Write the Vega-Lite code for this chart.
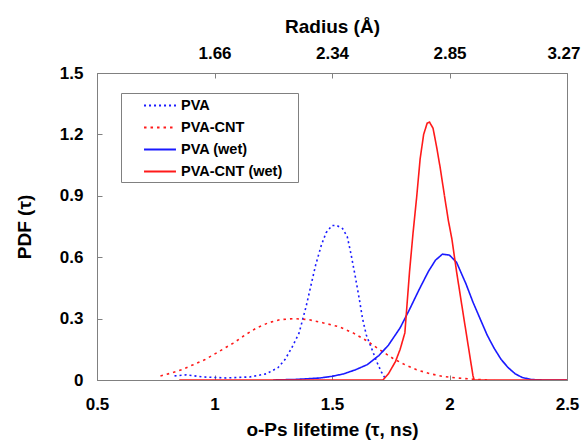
{
  "$schema": "https://vega.github.io/schema/vega-lite/v6.json",
  "width": 470,
  "height": 307,
  "autosize": "none",
  "padding": {"left": 97, "top": 73, "right": 15, "bottom": 63},
  "background": "white",
  "config": {
    "view": {"stroke": "#808080", "strokeWidth": 1},
    "font": "Liberation Sans",
    "axis": {
      "labelFont": "Liberation Sans",
      "labelFontWeight": "bold",
      "labelFontSize": 17,
      "labelColor": "#000000",
      "titleFont": "Liberation Sans",
      "titleFontWeight": "bold",
      "titleFontSize": 19,
      "titleColor": "#000000",
      "domainColor": "#808080",
      "tickColor": "#808080",
      "grid": false
    },
    "legend": {
      "titleOrient": "right", "titlePadding": 12, "titleFontSize": 14,
      "orient": "none", "legendX": 24, "legendY": 20,
      "fillColor": "white", "strokeColor": "#808080",
      "padding": 4, "symbolOffset": 26.5, "labelOffset": 12.5,
      "symbolType": "M-2.13,0H2.13", "symbolSize": 225, "symbolStrokeWidth": 2,
      "labelFont": "Liberation Sans", "labelFontWeight": "bold",
      "labelFontSize": 14.5, "labelColor": "#000000", "rowPadding": 7
    }
  },
  "data": {"values": [
    {"tau": 0.83, "pdf": 0.02, "s": "PVA"},
    {"tau": 0.88, "pdf": 0.025, "s": "PVA"},
    {"tau": 0.95, "pdf": 0.015, "s": "PVA"},
    {"tau": 1.05, "pdf": 0.01, "s": "PVA"},
    {"tau": 1.15, "pdf": 0.015, "s": "PVA"},
    {"tau": 1.22, "pdf": 0.03, "s": "PVA"},
    {"tau": 1.27, "pdf": 0.06, "s": "PVA"},
    {"tau": 1.30, "pdf": 0.10, "s": "PVA"},
    {"tau": 1.33, "pdf": 0.16, "s": "PVA"},
    {"tau": 1.36, "pdf": 0.23, "s": "PVA"},
    {"tau": 1.39, "pdf": 0.36, "s": "PVA"},
    {"tau": 1.41, "pdf": 0.46, "s": "PVA"},
    {"tau": 1.43, "pdf": 0.56, "s": "PVA"},
    {"tau": 1.455, "pdf": 0.66, "s": "PVA"},
    {"tau": 1.475, "pdf": 0.72, "s": "PVA"},
    {"tau": 1.50, "pdf": 0.755, "s": "PVA"},
    {"tau": 1.52, "pdf": 0.755, "s": "PVA"},
    {"tau": 1.545, "pdf": 0.74, "s": "PVA"},
    {"tau": 1.565, "pdf": 0.70, "s": "PVA"},
    {"tau": 1.58, "pdf": 0.62, "s": "PVA"},
    {"tau": 1.60, "pdf": 0.50, "s": "PVA"},
    {"tau": 1.617, "pdf": 0.39, "s": "PVA"},
    {"tau": 1.63, "pdf": 0.30, "s": "PVA"},
    {"tau": 1.646, "pdf": 0.22, "s": "PVA"},
    {"tau": 1.67, "pdf": 0.15, "s": "PVA"},
    {"tau": 1.69, "pdf": 0.09, "s": "PVA"},
    {"tau": 1.71, "pdf": 0.04, "s": "PVA"},
    {"tau": 1.725, "pdf": 0.01, "s": "PVA"},

    {"tau": 0.77, "pdf": 0.02, "s": "PVA-CNT"},
    {"tau": 0.82, "pdf": 0.035, "s": "PVA-CNT"},
    {"tau": 0.86, "pdf": 0.05, "s": "PVA-CNT"},
    {"tau": 0.91, "pdf": 0.075, "s": "PVA-CNT"},
    {"tau": 0.96, "pdf": 0.10, "s": "PVA-CNT"},
    {"tau": 1.02, "pdf": 0.14, "s": "PVA-CNT"},
    {"tau": 1.08, "pdf": 0.18, "s": "PVA-CNT"},
    {"tau": 1.13, "pdf": 0.22, "s": "PVA-CNT"},
    {"tau": 1.18, "pdf": 0.255, "s": "PVA-CNT"},
    {"tau": 1.23, "pdf": 0.28, "s": "PVA-CNT"},
    {"tau": 1.28, "pdf": 0.295, "s": "PVA-CNT"},
    {"tau": 1.34, "pdf": 0.30, "s": "PVA-CNT"},
    {"tau": 1.40, "pdf": 0.295, "s": "PVA-CNT"},
    {"tau": 1.46, "pdf": 0.28, "s": "PVA-CNT"},
    {"tau": 1.53, "pdf": 0.26, "s": "PVA-CNT"},
    {"tau": 1.59, "pdf": 0.23, "s": "PVA-CNT"},
    {"tau": 1.65, "pdf": 0.19, "s": "PVA-CNT"},
    {"tau": 1.70, "pdf": 0.15, "s": "PVA-CNT"},
    {"tau": 1.76, "pdf": 0.105, "s": "PVA-CNT"},
    {"tau": 1.81, "pdf": 0.075, "s": "PVA-CNT"},
    {"tau": 1.86, "pdf": 0.05, "s": "PVA-CNT"},
    {"tau": 1.92, "pdf": 0.03, "s": "PVA-CNT"},
    {"tau": 1.97, "pdf": 0.018, "s": "PVA-CNT"},
    {"tau": 2.03, "pdf": 0.01, "s": "PVA-CNT"},
    {"tau": 2.10, "pdf": 0.004, "s": "PVA-CNT"},
    {"tau": 2.16, "pdf": 0.0, "s": "PVA-CNT"},

    {"tau": 1.25, "pdf": 0.0, "s": "PVA (wet)"},
    {"tau": 1.35, "pdf": 0.003, "s": "PVA (wet)"},
    {"tau": 1.45, "pdf": 0.01, "s": "PVA (wet)"},
    {"tau": 1.50, "pdf": 0.018, "s": "PVA (wet)"},
    {"tau": 1.55, "pdf": 0.03, "s": "PVA (wet)"},
    {"tau": 1.60, "pdf": 0.05, "s": "PVA (wet)"},
    {"tau": 1.65, "pdf": 0.075, "s": "PVA (wet)"},
    {"tau": 1.70, "pdf": 0.12, "s": "PVA (wet)"},
    {"tau": 1.74, "pdf": 0.17, "s": "PVA (wet)"},
    {"tau": 1.79, "pdf": 0.255, "s": "PVA (wet)"},
    {"tau": 1.83, "pdf": 0.345, "s": "PVA (wet)"},
    {"tau": 1.87, "pdf": 0.44, "s": "PVA (wet)"},
    {"tau": 1.91, "pdf": 0.53, "s": "PVA (wet)"},
    {"tau": 1.94, "pdf": 0.585, "s": "PVA (wet)"},
    {"tau": 1.97, "pdf": 0.615, "s": "PVA (wet)"},
    {"tau": 2.00, "pdf": 0.61, "s": "PVA (wet)"},
    {"tau": 2.03, "pdf": 0.575, "s": "PVA (wet)"},
    {"tau": 2.07, "pdf": 0.47, "s": "PVA (wet)"},
    {"tau": 2.10, "pdf": 0.38, "s": "PVA (wet)"},
    {"tau": 2.13, "pdf": 0.30, "s": "PVA (wet)"},
    {"tau": 2.16, "pdf": 0.22, "s": "PVA (wet)"},
    {"tau": 2.19, "pdf": 0.155, "s": "PVA (wet)"},
    {"tau": 2.22, "pdf": 0.10, "s": "PVA (wet)"},
    {"tau": 2.25, "pdf": 0.06, "s": "PVA (wet)"},
    {"tau": 2.28, "pdf": 0.03, "s": "PVA (wet)"},
    {"tau": 2.31, "pdf": 0.012, "s": "PVA (wet)"},
    {"tau": 2.35, "pdf": 0.002, "s": "PVA (wet)"},
    {"tau": 2.40, "pdf": 0.0, "s": "PVA (wet)"},
    {"tau": 2.50, "pdf": 0.0, "s": "PVA (wet)"},

    {"tau": 0.85, "pdf": 0.0, "s": "PVA-CNT (wet)"},
    {"tau": 1.717, "pdf": 0.0, "s": "PVA-CNT (wet)"},
    {"tau": 1.74, "pdf": 0.03, "s": "PVA-CNT (wet)"},
    {"tau": 1.77, "pdf": 0.09, "s": "PVA-CNT (wet)"},
    {"tau": 1.79, "pdf": 0.15, "s": "PVA-CNT (wet)"},
    {"tau": 1.81, "pdf": 0.23, "s": "PVA-CNT (wet)"},
    {"tau": 1.82, "pdf": 0.38, "s": "PVA-CNT (wet)"},
    {"tau": 1.83, "pdf": 0.53, "s": "PVA-CNT (wet)"},
    {"tau": 1.845, "pdf": 0.72, "s": "PVA-CNT (wet)"},
    {"tau": 1.86, "pdf": 0.89, "s": "PVA-CNT (wet)"},
    {"tau": 1.875, "pdf": 1.08, "s": "PVA-CNT (wet)"},
    {"tau": 1.89, "pdf": 1.20, "s": "PVA-CNT (wet)"},
    {"tau": 1.905, "pdf": 1.255, "s": "PVA-CNT (wet)"},
    {"tau": 1.915, "pdf": 1.26, "s": "PVA-CNT (wet)"},
    {"tau": 1.93, "pdf": 1.23, "s": "PVA-CNT (wet)"},
    {"tau": 1.945, "pdf": 1.14, "s": "PVA-CNT (wet)"},
    {"tau": 1.96, "pdf": 1.04, "s": "PVA-CNT (wet)"},
    {"tau": 1.98, "pdf": 0.89, "s": "PVA-CNT (wet)"},
    {"tau": 1.995, "pdf": 0.78, "s": "PVA-CNT (wet)"},
    {"tau": 2.01, "pdf": 0.69, "s": "PVA-CNT (wet)"},
    {"tau": 2.03, "pdf": 0.53, "s": "PVA-CNT (wet)"},
    {"tau": 2.06, "pdf": 0.31, "s": "PVA-CNT (wet)"},
    {"tau": 2.08, "pdf": 0.165, "s": "PVA-CNT (wet)"},
    {"tau": 2.10, "pdf": 0.02, "s": "PVA-CNT (wet)"},
    {"tau": 2.105, "pdf": 0.0, "s": "PVA-CNT (wet)"},
    {"tau": 2.50, "pdf": 0.0, "s": "PVA-CNT (wet)"}
  ]},
  "resolve": {"axis": {"x": "independent"}},
  "layer": [
    {
      "mark": {"type": "line", "strokeWidth": 1.6, "clip": true},
      "encoding": {
        "x": {
          "field": "tau", "type": "quantitative",
          "scale": {"domain": [0.5, 2.5], "nice": false, "zero": false},
          "axis": {
            "orient": "bottom", "values": [0.5, 1, 1.5, 2, 2.5], "format": "~g",
            "title": "o-Ps lifetime (τ, ns)", "tickSize": -5,
            "labelPadding": 21, "titlePadding": 8, "labelFlush": false
          }
        },
        "y": {
          "field": "pdf", "type": "quantitative",
          "scale": {"domain": [0, 1.5], "nice": false},
          "axis": {
            "values": [0, 0.3, 0.6, 0.9, 1.2, 1.5],
            "labelExpr": "datum.value == 0 ? '0' : format(datum.value, '.1f')",
            "title": "PDF (τ)", "tickSize": -5,
            "labelPadding": 19, "titlePadding": 25
          }
        },
        "color": {
          "field": "s", "type": "nominal",
          "scale": {
            "domain": ["PVA", "PVA-CNT", "PVA (wet)", "PVA-CNT (wet)"],
            "range": ["#1a1aff", "#ff1a1a", "#1a1aff", "#ff1a1a"]
          },
          "legend": {"title": "\u00a0", "titleOrient": "right", "titlePadding": 12}
        },
        "strokeDash": {
          "field": "s", "type": "nominal",
          "scale": {
            "domain": ["PVA", "PVA-CNT", "PVA (wet)", "PVA-CNT (wet)"],
            "range": [[2, 3], [2.5, 4], [1, 0], [1, 0]]
          },
          "legend": {"title": "\u00a0", "titleOrient": "right", "titlePadding": 12}
        }
      }
    },
    {
      "mark": {"type": "rule", "opacity": 0},
      "encoding": {
        "x": {
          "field": "tau", "type": "quantitative",
          "scale": {"domain": [0.5, 2.5], "nice": false, "zero": false},
          "axis": {
            "orient": "top", "values": [1, 1.5, 2, 2.5],
            "labelExpr": "datum.value == 1 ? '1.66' : datum.value == 1.5 ? '2.34' : datum.value == 2 ? '2.85' : '3.27'",
            "labelAlign": {"condition": {"test": "datum.value == 2.5", "value": "right"}, "value": "center"},
            "labelOffset": {"condition": {"test": "datum.value == 2.5", "value": 13}, "value": 0},
            "title": "Radius (Å)", "tickSize": -5,
            "labelPadding": 16, "titlePadding": 8, "labelFlush": false
          }
        }
      }
    }
  ]
}
